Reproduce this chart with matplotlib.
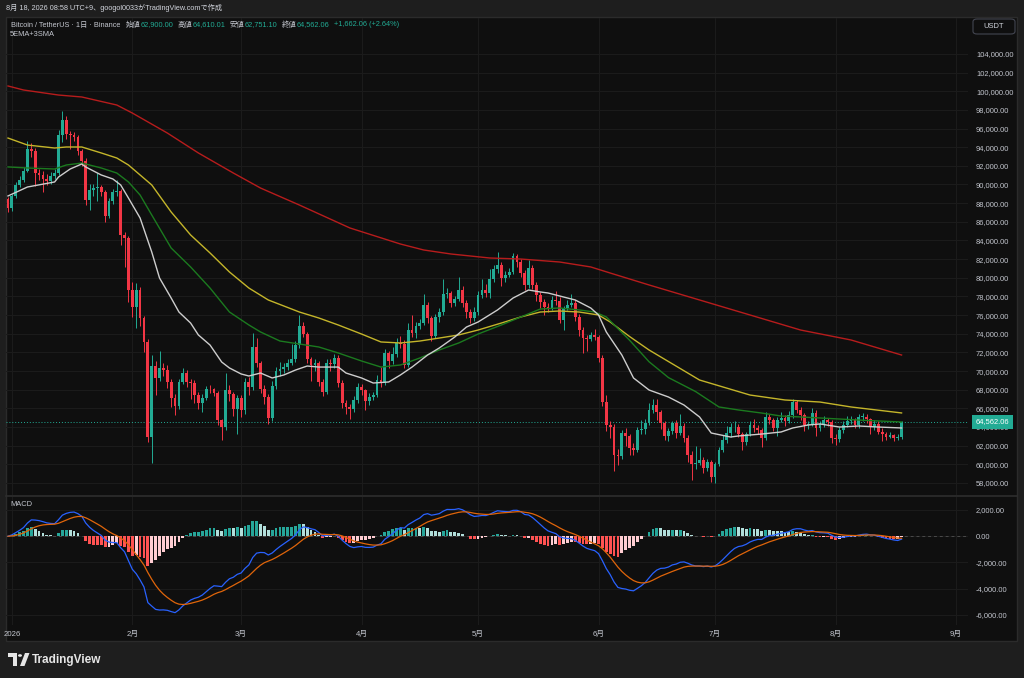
import numpy as np
import pandas as pd
import matplotlib
matplotlib.use('Agg')
import matplotlib.pyplot as plt
from matplotlib.patches import Rectangle, Circle, Polygon, FancyBboxPatch
from matplotlib.lines import Line2D
import matplotlib.transforms as mtransforms

plt.rcParams['font.family'] = ['Liberation Sans', 'Noto Sans CJK JP', 'DejaVu Sans']

# daily candles, 2025-12-31 .. 2026-08-18 (open = previous close)
first_open = 88445
closes = [87480,
    # Jan
    88770, 89950, 90480, 91450, 93800, 93580, 91230, 91000, 90590, 90370, 90910, 91230, 95300, 96910, 95410, 95300,
    95090, 93580, 92500, 88340, 89410, 89620, 89730, 89200, 86620, 88230, 89200, 89300, 84600, 84260, 78690,
    # Feb
    76870, 78690, 75690, 73120, 62930, 70540, 69260, 70330, 70110, 68830, 67110, 66250, 68830, 69790, 68830, 68700,
    67430, 66580, 67110, 68080, 68050, 67650, 64750, 64000, 67970, 67540, 65930, 67110,
    # Mar
    65830, 68830, 68290, 72580, 70860, 68080, 67220, 64960, 68400, 70000, 70220, 70430, 70860, 71290, 72790, 74830,
    74000, 71290, 70650, 70860, 68830, 67760, 70860, 70750, 71400, 68720, 66580, 66150, 65900, 66900, 68290,
    # Apr
    67970, 66800, 67220, 67430, 69040, 68720, 71930, 71080, 71830, 73010, 72950, 70650, 74400, 74080, 74830, 75150,
    77080, 75690, 73760, 75800, 76330, 78260, 78370, 77300, 77730, 78690, 77300, 76330, 75690, 76330,
    # May
    78150, 78690, 78370, 79870, 80940, 81370, 79980, 80300, 80620, 82330, 81690, 80510, 79230, 81050, 79230, 78150,
    77400, 76870, 76760, 77620, 77550, 75480, 76760, 77080, 77300, 75800, 74400, 73540, 73440, 73870, 73650,
    # Jun
    71400, 66680, 64220, 64000, 61000, 60900, 63360, 63040, 61750, 61540, 63680, 63750, 64430, 65830, 66360, 65610,
    64430, 63040, 63570, 64430, 63360, 64110, 62820, 61000, 60040, 60140, 60470, 59610, 60250, 58640,
    # Jul
    60040, 61540, 62610, 63360, 64000, 64050, 63250, 62400, 63250, 64220, 63900, 63680, 62820, 65080, 64750, 63900,
    64750, 64970, 64650, 65290, 66680, 65830, 65290, 64220, 64330, 65500, 63900, 64330, 64750, 64540, 62820,
    # Aug
    62700, 63680, 64220, 64650, 64750, 64220, 65080, 65100, 64860, 64000, 64330, 63470, 63300, 62930, 63150, 62820,
    62900, 64562.06]

highs = [88700,
    89000, 90300, 90900, 91900, 94660, 94500, 93900, 91700, 91500, 91100, 91300, 91700, 95800, 97880, 97300, 95700,
    95600, 95300, 93800, 92800, 90100, 90000, 91200, 89900, 89400, 88500, 89500, 90500, 89500, 84900, 84500,
    79500, 79400, 79000, 75900, 73400, 71700, 71100, 72200, 70900, 70600, 69100, 67500, 69200, 70300, 70100, 69200,
    69000, 67800, 67500, 68400, 68500, 68200, 67900, 64900, 69800, 68500, 67800, 67400,
    67400, 69300, 69400, 74100, 73500, 71100, 68500, 67500, 68900, 70400, 71000, 70900, 71300, 72900, 73200, 76000,
    75300, 74200, 71500, 71300, 71100, 69100, 71300, 71300, 71800, 71700, 69000, 66900, 66500, 67300, 68700,
    68600, 68100, 67600, 67800, 69600, 70400, 72400, 72200, 72600, 73500, 73800, 73300, 75100, 76000, 75300, 75600,
    78300, 77400, 75900, 76100, 76800, 79900, 78900, 78600, 78100, 80100, 79100, 77600, 76600, 76900,
    78600, 79900, 79300, 80900, 81400, 82760, 81700, 80700, 81100, 82700, 82500, 82000, 80800, 81900, 81400, 79500,
    78500, 77700, 77300, 78000, 78600, 77900, 77000, 77600, 78300, 77600, 76100, 74700, 73900, 74200, 74500,
    73900, 71700, 67400, 64700, 64300, 61600, 63700, 63900, 63300, 62300, 64000, 64800, 64900, 66600, 67000, 67000,
    65800, 64700, 63900, 64700, 64800, 65400, 64400, 63100, 61400, 62000, 61800, 60800, 60600, 60500,
    60300, 61900, 63100, 64100, 64400, 64600, 64300, 63500, 63500, 64700, 64900, 64200, 63900, 65600, 65400, 65000,
    65100, 65600, 65300, 65700, 67000, 66900, 66100, 65500, 64700, 66000, 65800, 64700, 65200, 65000, 64800,
    63200, 64000, 64600, 65200, 65200, 65000, 65400, 65500, 65400, 65000, 64800, 64600, 63900, 63500, 63500, 63300,
    63200, 64610.01]

lows = [87100,
    87200, 88500, 89700, 90300, 91300, 93000, 89800, 90500, 89200, 89900, 90100, 90600, 91000, 94600, 94900, 93800,
    94700, 93200, 92000, 87800, 87300, 88800, 88200, 88800, 86000, 86400, 87900, 88800, 83500, 81200, 77400,
    75800, 74600, 74800, 72000, 62400, 60140, 67400, 68900, 69500, 68200, 66200, 65300, 65900, 68600, 68300, 67000,
    66600, 65900, 65600, 66900, 67700, 67300, 64200, 62600, 63700, 66800, 65200, 63200,
    65100, 65400, 67400, 68000, 70400, 67700, 66500, 64300, 64700, 68100, 69500, 69800, 70100, 70600, 71000, 72500,
    73600, 70900, 68900, 70000, 68400, 67300, 67500, 70000, 70300, 68300, 66000, 65400, 64900, 65600, 66600,
    67400, 65800, 66360, 66900, 67200, 68300, 68500, 70300, 70800, 71500, 72500, 70300, 70400, 73700, 73500, 74500,
    74900, 75200, 73200, 73500, 75300, 76000, 77800, 76900, 77000, 77500, 76900, 75700, 75100, 75400,
    76000, 77800, 77900, 77800, 79500, 80500, 79100, 79600, 80100, 80400, 81200, 80100, 78700, 78900, 78800, 77500,
    76800, 76000, 76300, 76500, 77100, 75100, 74400, 76500, 76900, 75400, 73800, 71900, 72200, 73200, 73300,
    71000, 66300, 63600, 62800, 59300, 59900, 60600, 62000, 61000, 61000, 61300, 63300, 63300, 64200, 65500, 64800,
    63800, 62600, 62500, 63300, 62800, 63100, 62400, 60300, 58300, 59500, 59900, 59100, 59300, 58100,
    58000, 59800, 61300, 62300, 62900, 63500, 62900, 61500, 62100, 63000, 63500, 63300, 61900, 62600, 64300, 63600,
    63000, 64500, 64100, 64400, 65000, 65500, 64800, 63600, 63800, 64100, 63000, 63600, 64000, 64100, 62300,
    62100, 62400, 63400, 64000, 64300, 63900, 63900, 64700, 64400, 63300, 63700, 63200, 62500, 62600, 62800, 62500,
    62600, 62751.10]

# moving average lines (day index from 2025-12-31, value)
white_days = [0, 5, 12, 13, 16, 19, 20, 24, 27, 29, 31, 34, 37, 39, 42, 44, 47, 49, 52, 55, 57, 60, 62, 65, 68, 71,
              74, 77, 80, 85, 87, 91, 94, 98, 101, 104, 108, 111, 115, 118, 121, 126, 130, 134, 137, 139, 143, 146,
              150, 152, 154, 158, 161, 165, 170, 174, 178, 181, 186, 188, 194, 199, 202, 206, 209, 214, 219, 224, 230]
white_vals = [88770, 89730, 90270, 90800, 91660, 92200, 91880, 91020, 90590, 89950, 88550, 86410, 82760, 79980, 77830,
              76330, 75150, 73870, 72790, 70970, 70330, 69690, 69470, 69790, 69260, 69580, 70110, 70540, 70430, 70430,
              69790, 69260, 68720, 68830, 69580, 70430, 71720, 72470, 73650, 74720, 75260, 76550, 77830, 78690, 78480,
              78370, 77940, 77620, 76760, 76010, 74190, 71720, 69260, 67970, 67220, 66360, 65080, 63360, 62930, 63040,
              63250, 63470, 63900, 64220, 64330, 64000, 64110, 64000, 63900]
green_days = [0, 5, 12, 15, 19, 24, 28, 31, 34, 37, 42, 47, 52, 57, 62, 65, 70, 75, 80, 85, 91, 96, 101, 106, 111,
              116, 121, 127, 132, 137, 142, 147, 151, 154, 160, 165, 170, 177, 183, 188, 194, 199, 204, 209, 214,
              219, 224, 230]
green_vals = [91880, 91770, 91660, 92090, 92300, 91770, 91230, 90270, 88870, 86730, 83190, 81160, 78900, 76330, 74940,
              74190, 73220, 72900, 72580, 71940, 71080, 70430, 70650, 71400, 72260, 73010, 73970, 74940, 75800, 76650,
              76760, 76550, 76330, 75800, 73300, 71000, 69300, 67800, 66150, 65830, 65500, 65180, 65080, 64970, 64860,
              64750, 64650, 64540]
yellow_days = [0, 5, 12, 15, 19, 24, 28, 31, 37, 42, 47, 52, 57, 62, 67, 75, 80, 85, 91, 96, 101, 106, 111, 116,
               121, 127, 132, 137, 142, 147, 152, 155, 160, 165, 178, 191, 200, 209, 217, 230]
yellow_vals = [94980, 94230, 93910, 94020, 94020, 93380, 92840, 92090, 89950, 87050, 84590, 82660, 80620, 78900,
               77620, 76330, 75690, 74940, 73970, 73120, 73010, 73220, 73540, 73870, 74400, 75150, 75800, 76330,
               76440, 76330, 76010, 75260, 73700, 72260, 69040, 67430, 66900, 66680, 66150, 65510]
red_days = [0, 4, 13, 19, 28, 32, 41, 49, 58, 65, 75, 88, 101, 107, 114, 124, 132, 142, 150, 155, 165, 178, 191,
            204, 217, 230]
red_vals = [100560, 100130, 99590, 99380, 98520, 97660, 95520, 93380, 91230, 89620, 87800, 85340, 83620, 82980,
            82550, 82120, 82010, 81690, 81160, 80510, 79230, 77620, 76010, 74400, 73330, 71720]

month_labels = ['2026', '2月', '3月', '4月', '5月', '6月', '7月', '8月', '9月']
month_starts = ['2026-01-01', '2026-02-01', '2026-03-01', '2026-04-01', '2026-05-01', '2026-06-01',
                '2026-07-01', '2026-08-01', '2026-09-01']

UP = '#22ab94'
DOWN = '#f23645'
TXT = '#c3c6ce'
GRID = '#1b1b1b'

closes = np.array(closes, dtype=float)
highs = np.array(highs, dtype=float)
lows = np.array(lows, dtype=float)
opens = np.concatenate([[first_open], closes[:-1]])
dates = pd.date_range('2025-12-31', periods=len(closes), freq='D')
x = np.arange(len(closes))

# MACD 12/26/9
s = pd.Series(closes)
macd = s.ewm(span=12, adjust=False).mean() - s.ewm(span=26, adjust=False).mean()
signal = macd.ewm(span=9, adjust=False).mean()
hist = (macd - signal).values
hist_cols = []
for i, h in enumerate(hist):
    prev = hist[i - 1] if i > 0 else 0
    if h >= 0:
        hist_cols.append('#26a69a' if h >= prev else '#b2dfdb')
    else:
        hist_cols.append('#ffcdd2' if h >= prev else '#ff5252')

W, H = 1024, 678
fig = plt.figure(figsize=(W / 100, H / 100), dpi=100, facecolor='#1e1e1e')


def fx(px):
    return px / W


def fy(py):
    return 1 - py / H


fig.add_artist(Rectangle((fx(6), fy(641)), fx(1017) - fx(6), fy(17) - fy(641), transform=fig.transFigure,
                         facecolor='#0f0f0f', edgecolor='#2b2b2b', lw=1, zorder=0))

ax = fig.add_axes([fx(6), fy(495), fx(968) - fx(6), fy(18) - fy(495)])
ax2 = fig.add_axes([fx(6), fy(625), fx(968) - fx(6), fy(497) - fy(625)], sharex=ax)
fig.add_artist(Line2D([fx(6), fx(1017)], [fy(496), fy(496)], transform=fig.transFigure, color='#2e2e2e', lw=1.2))

for a in (ax, ax2):
    a.set_facecolor('none')
    for sp in a.spines.values():
        sp.set_visible(False)
    a.yaxis.tick_right()
    a.tick_params(axis='y', length=0, pad=5.8, labelsize=5.4, labelcolor=TXT)
    a.grid(True, color=GRID, lw=0.8)
    a.set_axisbelow(True)

# candles
cols = np.where(closes >= opens, UP, DOWN)
ax.vlines(x, lows, highs, colors=cols, lw=0.7, zorder=2)
ax.bar(x, np.maximum(np.abs(closes - opens), 50), bottom=np.minimum(opens, closes), width=0.72,
       color=cols, lw=0, zorder=2)

ax.plot(red_days, red_vals, color='#b71c1c', lw=1.0, zorder=3)
ax.plot(yellow_days, yellow_vals, color='#c4b52a', lw=1.0, zorder=3)
ax.plot(green_days, green_vals, color='#1b7a1f', lw=1.0, zorder=3)
ax.plot(white_days, white_vals, color='#cdcdcd', lw=1.0, zorder=3)

last = closes[-1]
ax.axhline(last, color=UP, lw=0.7, ls=(0, (1, 2)), zorder=1)
trans = mtransforms.blended_transform_factory(ax.transAxes, ax.transData)
ax.text(1 + 8 / 962, last, f'{last:,.2f}', transform=trans, ha='left', va='center', fontsize=5.4,
        color='white', bbox=dict(boxstyle='square,pad=0.5', fc=UP, ec='none'), clip_on=False)

ax.set_xlim(-0.515, 247.1)
ax.set_ylim(56714, 107848)
ax.set_yticks(np.arange(58000, 104001, 2000))
ax.set_yticklabels([f'{v:,.2f}' for v in np.arange(58000, 104001, 2000)])

tick_pos = [(pd.Timestamp(d) - dates[0]).days for d in month_starts]
ax.set_xticks(tick_pos)
ax.tick_params(axis='x', length=0, labelbottom=False)

# MACD pane
ax2.axhline(0, color='#4a4a4a', lw=0.7, ls=(0, (3, 3)), zorder=1)
ax2.bar(x, hist, width=0.72, color=hist_cols, lw=0, zorder=2)
ax2.plot(x, macd.values, color='#2962ff', lw=0.9, zorder=3)
ax2.plot(x, signal.values, color='#e0650a', lw=0.9, zorder=3)
ax2.set_ylim(-6762, 2990)
ax2.set_yticks([2000, 0, -2000, -4000, -6000])
ax2.set_yticklabels([f'{v:,.2f}' for v in [2000, 0, -2000, -4000, -6000]])
ax2.set_xticklabels(month_labels)
ax2.tick_params(axis='x', length=0, pad=4, labelsize=5.6, labelcolor=TXT)

# texts
fig.text(fx(6), fy(8), '8月 18, 2026 08:58 UTC+9、googol0033がTradingView.comで作成', fontsize=5.2,
         color='#d1d4dc', va='center', ha='left')
fig.text(fx(10), fy(35), '5EMA+3SMA', fontsize=5.4, color=TXT, va='center', ha='left')
fig.text(fx(10), fy(505), 'MACD', fontsize=5.4, color=TXT, va='center', ha='left')

o, h, l, c = opens[-1], highs[-1], lows[-1], closes[-1]
chg = c - o
items = [('Bitcoin / TetherUS · 1日 · Binance', TXT, 5), ('始値', TXT, 0.5), (f'{o:,.2f}', UP, 4),
         ('高値', TXT, 0.5), (f'{h:,.2f}', UP, 4), ('安値', TXT, 0.5), (f'{l:,.2f}', UP, 4),
         ('終値', TXT, 0.5), (f'{c:,.2f}', UP, 4), (f'{chg:+,.2f} ({chg / o * 100:+.2f}%)', UP, 0)]
renderer = fig.canvas.get_renderer()
px = 11
for txt, col, gap in items:
    t = fig.text(fx(px), fy(25), txt, fontsize=5.3, color=col, va='center', ha='left')
    px += t.get_window_extent(renderer=renderer).width + gap

fig.add_artist(FancyBboxPatch((fx(973), fy(34)), fx(1015) - fx(973), fy(19) - fy(34),
                              boxstyle='round,pad=0,rounding_size=0.004', transform=fig.transFigure,
                              fc='#0f0f0f', ec='#434651', lw=0.8))
fig.text(fx(994), fy(26.5), 'USDT', fontsize=5.4, color='#d1d4dc', va='center', ha='center')

# TradingView logo
logo = '#e6e6e6'
fig.add_artist(Polygon([(fx(8), fy(653)), (fx(17), fy(653)), (fx(17), fy(666)), (fx(13), fy(666)),
                        (fx(13), fy(657)), (fx(8), fy(657))], closed=True, transform=fig.transFigure,
                       fc=logo, ec='none'))
fig.add_artist(Circle((fx(20), fy(655.5)), 2.0 / W, transform=fig.transFigure, fc=logo, ec='none'))
fig.add_artist(Polygon([(fx(20), fy(666)), (fx(24.5), fy(666)), (fx(29.5), fy(653)), (fx(25), fy(653))],
                       closed=True, transform=fig.transFigure, fc=logo, ec='none'))
fig.text(fx(32), fy(660), 'TradingView', fontsize=8.5, fontweight='bold', color=logo, va='center', ha='left')

fig.savefig('out.png', dpi=100, facecolor=fig.get_facecolor())
